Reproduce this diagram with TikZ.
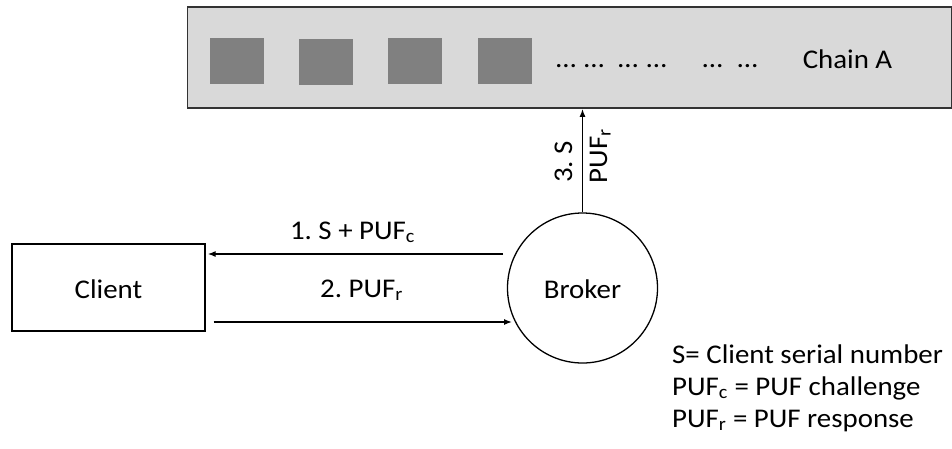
\documentclass[tikz,border=0pt]{standalone}
\usepackage{fontspec}
\setmainfont{Carlito}[FakeStretch=1.07]
\frenchspacing
\usetikzlibrary{arrows.meta}
\begin{document}
\begin{tikzpicture}[x=1pt,y=-1pt,
  lbl/.style={font=\fontsize{27}{32}\selectfont, inner sep=0pt},
  arr/.style={line width=1.3pt, -{Latex[length=8pt,width=6pt]}},
  chainbox/.style={draw=black!80, line width=1.8pt, fill=black!15, inner sep=0pt},
  blk/.style={fill=black!50, inner sep=0pt, minimum width=54pt, minimum height=46pt},
  dotsym/.style={font=\fontsize{27}{32}\selectfont, inner sep=0pt, anchor=base}
]
\useasboundingbox (0,0) rectangle (952,448);

% the chain with its blocks
\node[chainbox, minimum width=764pt, minimum height=101pt] (chain) at (569.5,57.5) {};
\node[blk] (blk1) at (237,60.5) {};
\node[blk] (blk2) at (326,61.5) {};
\node[blk] (blk3) at (415,60.5) {};
\node[blk] (blk4) at (505,60.5) {};
\node[dotsym] (d1) at (566,67) {\dots};
\node[dotsym] (d2) at (594,67) {\dots};
\node[dotsym] (d3) at (628,67) {\dots};
\node[dotsym] (d4) at (656.5,67) {\dots};
\node[dotsym] (d5) at (712.5,67) {\dots};
\node[dotsym] (d6) at (747.5,67) {\dots};
\node[lbl, anchor=base] (chainlbl) at (847.5,68) {Chain A};

% participants
\node[draw, line width=1.3pt, minimum width=193pt, minimum height=87pt, inner sep=0pt] (client) at (108.5,287.5) {};
\node[lbl] (clientlbl) at (108.5,289) {Client};
\node[draw, circle, line width=1.3pt, minimum size=150pt, inner sep=0pt] (broker) at (582.5,288) {};
\node[lbl] (brokerlbl) at (582.5,289) {Broker};

% messages
\coordinate (m1) at (503,254);
\coordinate (m2) at (512,322);
\draw[arr] (m1) -- ([xshift=2pt]m1 -| client.east);
\draw[arr] ([xshift=8pt]m2 -| client.east) -- (m2);
\draw[arr] (broker.north) -- (broker.north |- chain.south);

\node[lbl, anchor=base] (msg1) at (352.5,239) {1. S + PUF\textsubscript{c}};
\node[lbl, anchor=base] (msg2) at (361.5,297) {2. PUF\textsubscript{r}};
\node[lbl, anchor=base, rotate=90] (msg3a) at (572,162) {3. S};
\node[lbl, anchor=base, rotate=90] (msg3b) at (607,156) {PUF\textsubscript{r}};

% legend
\node[lbl, anchor=base west] (leg1) at (672,363) {S= Client serial number};
\node[lbl, anchor=base west] (leg2) at (672,395) {PUF\textsubscript{c} = PUF challenge};
\node[lbl, anchor=base west] (leg3) at (672,427) {PUF\textsubscript{r} = PUF response};
\end{tikzpicture}
\end{document}
